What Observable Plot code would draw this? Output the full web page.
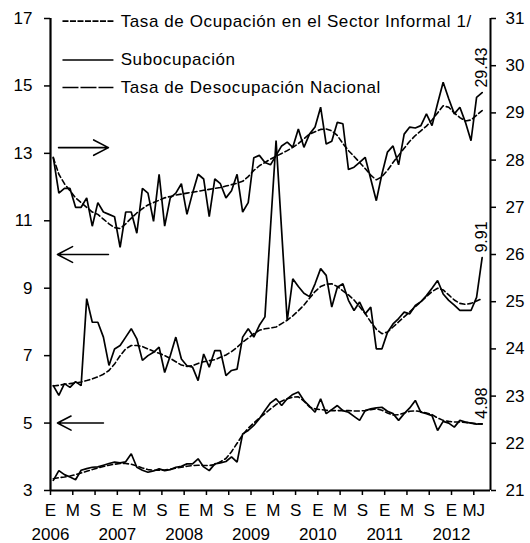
<!DOCTYPE html>
<html><head><meta charset="utf-8">
<script src="https://cdn.jsdelivr.net/npm/d3@7"></script>
<script src="https://cdn.jsdelivr.net/npm/@observablehq/plot@0.6"></script>
<style>
body{margin:0;background:#fff;}
#chart svg{font-family:"Liberation Sans",Arial,sans-serif;}
</style></head><body><div id="chart"></div>
<script>
// Monthly index: 0 = Jan 2006 ... 77 = Jun 2012
const months = d3.range(78);

// Tasa de Ocupación en el Sector Informal (right axis)
const informal = [28.06,27.3,27.4,27.4,27.0,27.0,27.2,26.6,27.1,26.9,
 26.85,26.8,26.15,26.9,26.9,26.45,27.4,27.3,26.7,27.7,
 26.6,27.2,27.3,27.5,26.85,27.3,27.7,27.6,26.8,27.6,
 27.5,27.2,27.35,27.7,26.9,27.1,28.05,28.1,27.95,27.9,
 28.1,28.3,28.38,28.27,28.66,28.27,28.55,28.7,29.12,28.34,
 28.4,28.8,28.77,27.8,27.85,27.95,28.06,27.6,27.14,27.7,
 28.17,28.3,27.9,28.55,28.7,28.68,28.73,28.98,28.73,29.2,
 29.65,29.3,28.98,29.12,28.8,28.41,29.33,29.43];
const informalTrend = [28.05,27.7,27.5,27.35,27.2,27.1,27.0,26.9,26.85,26.75,
 26.65,26.57,26.55,26.65,26.77,26.88,26.97,27.05,27.1,27.15,
 27.2,27.23,27.26,27.28,27.3,27.32,27.34,27.36,27.38,27.4,
 27.42,27.45,27.48,27.51,27.55,27.65,27.78,27.88,27.95,28.02,
 28.08,28.14,28.2,28.27,28.35,28.45,28.55,28.6,28.65,28.66,
 28.62,28.52,28.35,28.2,28.08,27.95,27.82,27.68,27.58,27.65,
 27.78,27.95,28.1,28.25,28.4,28.52,28.62,28.72,28.85,29.0,
 29.15,29.12,29.0,28.9,28.83,28.85,28.95,29.05];

// Subocupación (left axis)
const subocupacion = [6.11,5.82,6.17,6.06,6.23,6.11,8.69,7.99,7.99,7.55,
 6.71,7.2,7.3,7.55,7.8,7.5,6.86,7.0,7.1,7.25,
 6.5,7.0,7.55,6.9,6.7,6.66,6.26,7.05,6.66,7.15,
 7.15,6.41,6.56,6.6,7.55,7.8,7.55,7.9,8.15,10.8,
 13.38,10.7,8.04,9.28,9.05,8.85,8.75,9.13,9.58,9.38,
 8.44,9.03,9.13,8.64,8.34,8.59,8.24,8.44,7.2,7.2,
 7.69,7.94,8.1,8.29,8.24,8.49,8.6,8.78,9.0,9.23,
 8.83,8.64,8.5,8.34,8.34,8.34,8.73,9.91];
const subocupacionTrend = [6.1,6.12,6.15,6.17,6.19,6.22,6.26,6.31,6.37,6.45,
 6.56,6.75,7.0,7.2,7.3,7.3,7.27,7.2,7.13,7.07,
 7.0,6.92,6.82,6.72,6.68,6.7,6.77,6.82,6.85,6.88,
 6.95,7.02,7.12,7.25,7.4,7.52,7.65,7.75,7.8,7.82,
 7.85,7.95,8.05,8.18,8.33,8.5,8.7,8.9,9.05,9.12,
 9.13,9.05,8.92,8.8,8.65,8.45,8.25,8.0,7.78,7.65,
 7.7,7.85,8.0,8.15,8.3,8.45,8.6,8.75,8.9,9.0,
 8.95,8.8,8.65,8.55,8.52,8.55,8.62,8.69];

// Tasa de Desocupación Nacional (left axis)
const desocupacion = [3.3,3.59,3.47,3.4,3.32,3.6,3.65,3.69,3.7,3.75,
 3.8,3.84,3.82,3.85,4.09,3.69,3.6,3.54,3.58,3.64,
 3.59,3.62,3.69,3.72,3.79,3.79,3.94,3.7,3.59,3.79,
 3.82,3.86,4.0,3.84,4.68,4.78,4.93,5.13,5.37,5.6,
 5.72,5.52,5.72,5.85,5.92,5.67,5.5,5.32,5.72,5.28,
 5.4,5.52,5.37,5.32,5.2,5.08,5.37,5.42,5.45,5.47,
 5.35,5.28,5.08,5.28,5.45,5.67,5.32,5.28,5.22,4.78,
 5.05,5.0,4.88,5.08,5.03,5.0,4.97,4.98];
const desocupacionTrend = [3.35,3.38,3.4,3.43,3.47,3.52,3.57,3.62,3.67,3.71,
 3.75,3.78,3.8,3.8,3.78,3.73,3.67,3.62,3.6,3.6,
 3.61,3.63,3.66,3.69,3.72,3.74,3.75,3.74,3.74,3.77,
 3.85,3.95,4.15,4.4,4.65,4.85,5.0,5.15,5.28,5.42,
 5.55,5.65,5.72,5.77,5.78,5.65,5.48,5.42,5.4,5.38,
 5.37,5.37,5.37,5.37,5.36,5.36,5.37,5.4,5.42,5.38,
 5.3,5.24,5.25,5.3,5.35,5.36,5.34,5.3,5.25,5.15,
 5.08,5.05,5.03,5.03,5.02,5.0,4.98,4.97];

// Tick labels
const leftTicks = [3,5,7,9,11,13,15,17];
const rightTicks = [21,22,23,24,25,26,27,28,29,30,31];
const xTickLabels = ["E","M","S","E","M","S","E","M","S","E","M","S","E","M","S","E","M","S","E","MJ"];
const yearLabels = ["2006","2007","2008","2009","2010","2011","2012"];
const legendNames = ["Tasa de Ocupación en el Sector Informal 1/","Subocupación","Tasa de Desocupación Nacional"];

// right axis (21–31) mapped onto left axis (3–17)
const toLeft = v => 3 + (v - 21) * 1.4;
const fromLeft = p => 21 + (p - 3) / 1.4;

// category boundaries (Excel-like category axis)
const xTickPos = xTickLabels.map((_, i) => i * 4 - 0.5);
const yearPos = yearLabels.map((_, i) => i * 12 - 0.5);

const pxPerUnit = 472 / 14;
const pxToLeft = px => 3 + (490 - px) / pxPerUnit;
const legendRowsPx = [20.7, 59.5, 87];
const legendDash = ["6,1.5", "none", "16,2"];
const legend = legendNames.map((name, i) => ({name, y: pxToLeft(legendRowsPx[i]), dash: legendDash[i]}));

const arrows = [
  {x1: 0.95, x2: 9.9, y: 13.17},
  {x1: 9.9, x2: 0.75, y: 10},
  {x1: 9.0, x2: 0.75, y: 5}
];

const endLabels = [
  {x: 77, y: toLeft(informal[77]), t: informal[77].toFixed(2)},
  {x: 77, y: subocupacion[77], t: subocupacion[77].toFixed(2)},
  {x: 77, y: desocupacion[77], t: desocupacion[77].toFixed(2)}
];

const line = (vals, f, dash) => Plot.line(months, {
  x: d => d, y: d => f(vals[d]), stroke: "#000",
  strokeWidth: dash ? 1.6 : 1.7, strokeDasharray: dash || undefined, strokeLinejoin: "miter"
});
const id = v => v;

const chart = Plot.plot({
  width: 530, height: 543,
  marginLeft: 50, marginRight: 40, marginTop: 18, marginBottom: 53,
  x: {domain: [-0.5, 78.5], axis: null},
  y: {domain: [3, 17], axis: null},
  style: {fontFamily: "'Liberation Sans', Arial, sans-serif", fontSize: "17px", color: "#000", background: "#fff"},
  marks: [
    line(informalTrend, toLeft, "5,3"),
    line(subocupacionTrend, id, "5,3"),
    line(desocupacionTrend, id, "5,3"),
    line(informal, toLeft),
    line(subocupacion, id),
    line(desocupacion, id),
    Plot.ruleX([-0.5], {strokeWidth: 2.2, y1: 3, y2: 17}),
    Plot.ruleX([78.5], {strokeWidth: 2, y1: 3, y2: 17}),
    Plot.ruleY([3], {strokeWidth: 2, x1: -0.5, x2: 78.5}),
    Plot.axisY({anchor: "left", ticks: leftTicks, tickSize: 6, tickPadding: 12, fontSize: 17, label: null, strokeWidth: 1.5}),
    Plot.axisY({anchor: "right", ticks: rightTicks.map(toLeft), tickFormat: d => String(Math.round(fromLeft(d))), tickSize: 5, tickPadding: 10, fontSize: 17, label: null, strokeWidth: 1.5}),
    Plot.axisX({anchor: "bottom", ticks: xTickPos, tickFormat: d => xTickLabels[xTickPos.indexOf(d)], tickSize: 5, tickPadding: 8, fontSize: 17, label: null, strokeWidth: 1.5}),
    Plot.axisX({anchor: "bottom", ticks: yearPos, tickFormat: d => yearLabels[yearPos.indexOf(d)], tickSize: 0, tickPadding: 37, fontSize: 17, label: null}),
    Plot.arrow(arrows, {x1: "x1", x2: "x2", y1: "y", y2: "y", bend: 0, headLength: 17, headAngle: 55, stroke: "#000", strokeWidth: 1.6}),
    ...legend.map(d => Plot.link([d], {x1: 1.65, x2: 10.8, y1: "y", y2: "y", stroke: "#000", strokeWidth: 1.7, strokeDasharray: d.dash})),
    Plot.text(legend, {x: 12.1, y: "y", text: "name", textAnchor: "start", fontSize: 17, fill: "#000"}),
    Plot.text(endLabels, {x: "x", y: "y", text: "t", rotate: -90, textAnchor: "start", dy: -5, fontSize: 16, fill: "#000"})
  ]
});
d3.select(chart).selectAll("text")
  .filter(function() { return legendNames.includes(this.textContent); })
  .attr("letter-spacing", "0.6px");
document.getElementById("chart").appendChild(chart);
</script></body></html>
